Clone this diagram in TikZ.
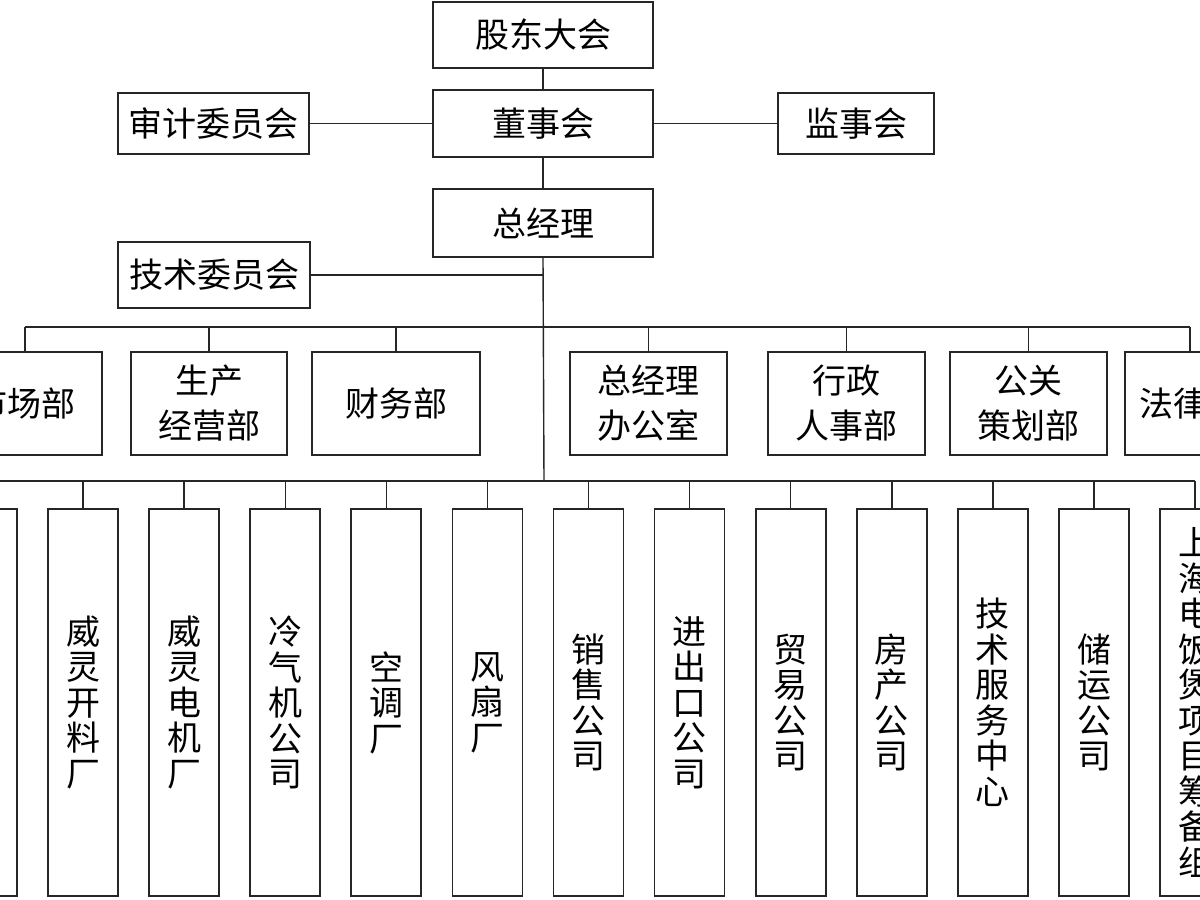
\documentclass[tikz,border=0pt]{standalone}
\usepackage{fontspec}
\newfontfamily\cjk{Noto Sans CJK SC}
\begin{document}
\begin{tikzpicture}[x=1pt,y=-1pt,
  box/.style={draw=black!85, line width=1.7pt, inner sep=0pt, align=center,
    font=\cjk\fontsize{34}{45}\selectfont},
  hbox/.style={box, minimum width=#1, minimum height=103pt},
  vbox/.style={draw=black!85, line width=1.7pt, inner sep=0pt, align=center,
    minimum width=70pt, minimum height=387pt, font=\cjk\fontsize{34}{35.5}\selectfont},
  conn/.style={line width=1.4pt, draw=black!85}]
\useasboundingbox (0,0) rectangle (1200,900);
\clip (0,0) rectangle (1200,900);
% top column
\node[box, minimum width=220pt, minimum height=66pt] (gd) at (543,35) {股东大会};
\node[box, minimum width=220pt, minimum height=67pt] (dsh) at (543,123.5) {董事会};
\node[box, minimum width=220pt, minimum height=68pt] (zjl) at (543,223) {总经理};
\node[box, minimum width=191pt, minimum height=61pt] (sj) at (213.5,123.5) {审计委员会};
\node[box, minimum width=156pt, minimum height=61pt] (js) at (856,123.5) {监事会};
\node[box, minimum width=192pt, minimum height=66pt] (jsw) at (214,275) {技术委员会};
\coordinate (bus1) at (544,327);
\coordinate (bus2) at (544,481);
\draw[conn] (gd) -- (dsh);
\draw[conn] (dsh) -- (zjl);
\draw[conn] (sj) -- (dsh);
\draw[conn] (dsh) -- (js);
\draw[conn] (zjl.south) -- (bus2);
\draw[conn] (jsw.east) -- (jsw.east -| zjl.south);
% departments
\node[hbox=154pt] (mkt) at (25,403.5) {市场部};
\node[hbox=156pt] (scjy) at (209,403.5) {生产\\经营部};
\node[hbox=168pt] (cw) at (396,403.5) {财务部};
\node[hbox=157pt] (zjb) at (648.5,403.5) {总经理\\办公室};
\node[hbox=157pt] (xz) at (846.5,403.5) {行政\\人事部};
\node[hbox=157pt] (gg) at (1028.5,403.5) {公关\\策划部};
\node[hbox=130pt] (law) at (1190,403.5) {法律部};
\draw[conn] (mkt.north |- bus1) -- (law.north |- bus1);
\foreach \n in {mkt,scjy,cw,zjb,xz,gg,law}
  \draw[conn] (\n.north) -- (\n.north |- bus1);
% subsidiaries
\node[vbox] (b0) at (-18.1,702.5) {};
\node[vbox] (b1) at (83,702.5) {威\\灵\\开\\料\\厂};
\node[vbox] (b2) at (184.1,702.5) {威\\灵\\电\\机\\厂};
\node[vbox] (b3) at (285.2,702.5) {冷\\气\\机\\公\\司};
\node[vbox] (b4) at (386.3,702.5) {空\\调\\厂};
\node[vbox] (b5) at (487.4,702.5) {风\\扇\\厂};
\node[vbox] (b6) at (588.5,702.5) {销\\售\\公\\司};
\node[vbox] (b7) at (689.6,702.5) {进\\出\\口\\公\\司};
\node[vbox] (b8) at (790.7,702.5) {贸\\易\\公\\司};
\node[vbox] (b9) at (891.8,702.5) {房\\产\\公\\司};
\node[vbox] (b10) at (992.9,702.5) {技\\术\\服\\务\\中\\心};
\node[vbox] (b11) at (1094,702.5) {储\\运\\公\\司};
\node[vbox] (b12) at (1195.1,702.5) {上\\海\\电\\饭\\煲\\项\\目\\筹\\备\\组};
\draw[conn] (b0.north |- bus2) -- (b12.north |- bus2);
\foreach \n in {b0,b1,b2,b3,b4,b5,b6,b7,b8,b9,b10,b11,b12}
  \draw[conn] (\n.north) -- (\n.north |- bus2);
\end{tikzpicture}
\end{document}
